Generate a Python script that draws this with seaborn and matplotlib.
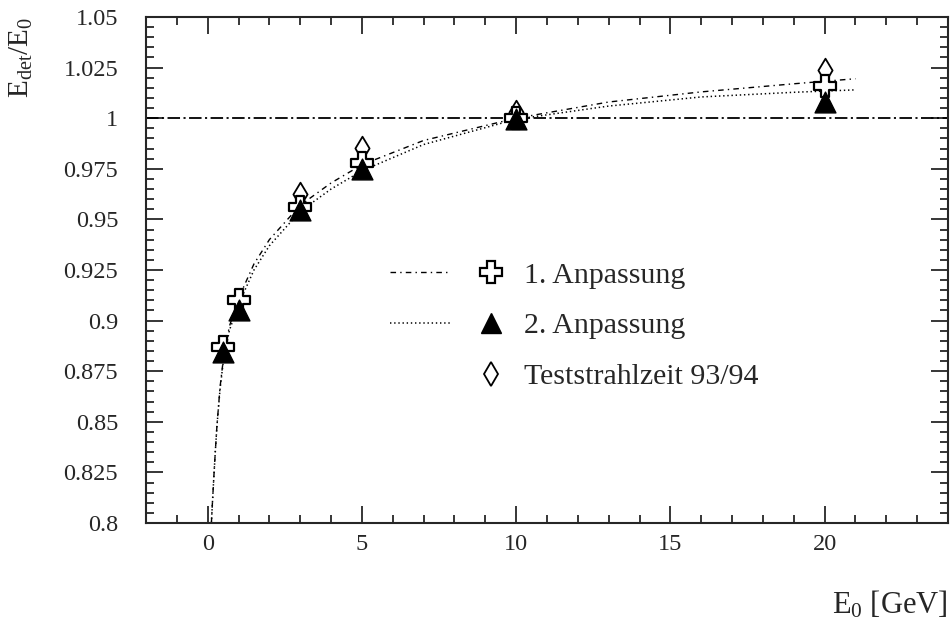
import matplotlib
matplotlib.use("Agg")
import matplotlib.pyplot as plt
from matplotlib.lines import Line2D
from matplotlib.legend_handler import HandlerTuple
from matplotlib.ticker import MultipleLocator, FuncFormatter
import seaborn as sns
import pandas as pd

# ---- data ----
energies = [0.5, 1, 3, 5, 10, 20]
fit1_points = [0.887, 0.910, 0.956, 0.978, 1.000, 1.016]
fit2_points = [0.8845, 0.905, 0.9545, 0.975, 0.9995, 1.008]
beam_energies = [3, 5, 10, 20]
beam_points = [0.9625, 0.9855, 1.003, 1.0237]

curve_x = [0.12, 0.15, 0.2, 0.25, 0.3, 0.4, 0.5, 0.7, 1, 1.5, 2, 3, 4, 5, 7, 10, 13, 16, 19, 21]
curve1_y = [0.80, 0.809, 0.823, 0.836, 0.848, 0.867, 0.880, 0.897, 0.911, 0.928, 0.940,
            0.957, 0.968, 0.977, 0.989, 1.000, 1.008, 1.013, 1.017, 1.0195]
curve2_y = [0.80, 0.809, 0.823, 0.836, 0.848, 0.866, 0.879, 0.895, 0.908, 0.925, 0.937,
            0.954, 0.965, 0.974, 0.987, 0.9995, 1.006, 1.0105, 1.0128, 1.014]

labels = ["1. Anpassung", "2. Anpassung", "Teststrahlzeit 93/94"]

# ---- style ----
sns.set_style("ticks")
plt.rcParams["font.family"] = ["Liberation Serif", "DejaVu Serif"]
plt.rcParams["mathtext.fontset"] = "custom"
plt.rcParams["mathtext.rm"] = "Liberation Serif"
plt.rcParams["mathtext.it"] = "Liberation Serif:italic"
plt.rcParams["lines.scale_dashes"] = False

fig = plt.figure(figsize=(9.5, 6.24), dpi=100)
ax = fig.add_axes([146 / 950, 1 - 523 / 624, 802 / 950, 506 / 624])

df_curve = pd.DataFrame({"E": curve_x, "c1": curve1_y, "c2": curve2_y})
ls1 = (0, (4, 3, 1, 3))
ls2 = (0, (1, 2))
ls_ref = (0, (9, 2.5, 1.5, 2.5))

ax.axhline(1.0, color="black", lw=1.3, ls=ls_ref, zorder=1)
sns.lineplot(data=df_curve, x="E", y="c2", ax=ax, color="black", lw=1.1,
             sort=False, estimator=None, zorder=2)
sns.lineplot(data=df_curve, x="E", y="c1", ax=ax, color="black", lw=1.0,
             sort=False, estimator=None, zorder=2)
ax.lines[1].set_linestyle(ls2)
ax.lines[2].set_linestyle(ls1)

df_beam = pd.DataFrame({"E": beam_energies, "v": beam_points})
df_pts = pd.DataFrame({"E": energies, "f1": fit1_points, "f2": fit2_points})

sns.scatterplot(data=df_beam, x="E", y="v", ax=ax, marker="d", s=12 ** 2,
                facecolor="white", edgecolor="black", linewidth=1.3, zorder=3)
sns.scatterplot(data=df_pts, x="E", y="f1", ax=ax, marker="P", s=16 ** 2,
                facecolor="white", edgecolor="black", linewidth=1.6, zorder=4)
sns.scatterplot(data=df_pts, x="E", y="f2", ax=ax, marker="^", s=15 ** 2,
                facecolor="black", edgecolor="black", linewidth=1.0, zorder=5)

ax.set_xlim(-2, 24)
ax.set_ylim(0.8, 1.05)
ax.xaxis.set_major_locator(MultipleLocator(5))
ax.xaxis.set_minor_locator(MultipleLocator(1))
ax.yaxis.set_major_locator(MultipleLocator(0.025))
ax.yaxis.set_minor_locator(MultipleLocator(0.005))
ax.yaxis.set_major_formatter(FuncFormatter(lambda v, p: f"{v:.3f}".rstrip("0").rstrip(".")))
ax.xaxis.set_major_formatter(FuncFormatter(lambda v, p: f"{v:g}"))

for s in ax.spines.values():
    s.set_linewidth(1.5)
    s.set_visible(True)
ax.tick_params(which="both", direction="in", top=True, right=True, width=1.3)
ax.tick_params(which="major", length=12, labelsize=17.5)
ax.tick_params(which="minor", length=6)
ax.tick_params(axis="y", which="major", pad=20)
ax.tick_params(axis="x", which="major", pad=8)

ax.set_ylabel(r"E$_{\mathrm{det}}$/E$_{0}$", fontsize=21, loc="top")
ax.yaxis.set_label_coords(-0.139, 1.0)
ax.set_xlabel(r"E$_{0}$ [GeV]", fontsize=22, loc="right")
ax.xaxis.set_label_coords(1.0, -0.13)

# legend: line sample + marker per entry
h1 = (Line2D([], [], color="black", lw=1.0, ls=ls1),
      Line2D([], [], ls="none", marker="P", ms=16, mfc="white", mec="black", mew=1.6))
h2 = (Line2D([], [], color="black", lw=1.1, ls=ls2),
      Line2D([], [], ls="none", marker="^", ms=15, mfc="black", mec="black"))
h3 = (Line2D([], [], ls="none"),
      Line2D([], [], ls="none", marker="d", ms=12, mfc="white", mec="black", mew=1.3))
leg = ax.legend([h1, h2, h3], labels,
                handler_map={tuple: HandlerTuple(ndivide=None, pad=0.3)},
                loc="center left", bbox_to_anchor=((390 - 146) / 802, (523 - 326) / 506),
                frameon=False, fontsize=21.5, handlelength=4.4, handletextpad=0.1,
                labelspacing=0.8, borderpad=0, borderaxespad=0)

fig.savefig("out.png", dpi=100)
